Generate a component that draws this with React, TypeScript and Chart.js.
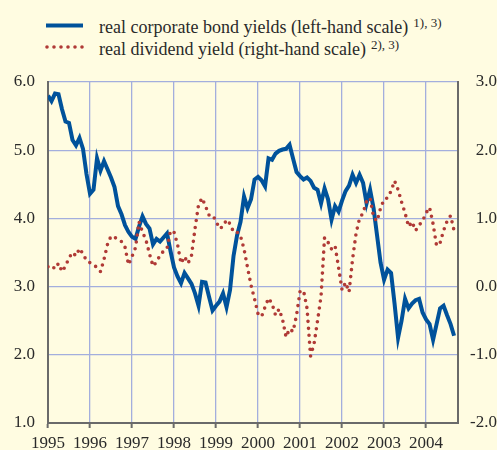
import React, { useEffect, useRef } from "react";
import { Chart, registerables } from "chart.js";

Chart.register(...registerables);

// Monthly observations from January 1995
const START_YEAR = 1995;
const X_MAX = 2004.76;
const YEAR_TICKS = [1995, 1996, 1997, 1998, 1999, 2000, 2001, 2002, 2003, 2004];

const LEFT_LABEL = "real corporate bond yields (left-hand scale)";
const LEFT_NOTE = "1), 3)";
const RIGHT_LABEL = "real dividend yield (right-hand scale)";
const RIGHT_NOTE = "2), 3)";

// real corporate bond yields (left-hand scale, %)
const bondYields = [
  5.80, 5.72, 5.83, 5.82, 5.60, 5.42, 5.40, 5.15, 5.07, 5.18, 5.02, 4.65,
  4.36, 4.42, 4.88, 4.70, 4.84, 4.72, 4.60, 4.46, 4.18, 4.06, 3.90, 3.80,
  3.73, 3.70, 3.88, 4.03, 3.92, 3.85, 3.62, 3.70, 3.66, 3.72, 3.78, 3.52,
  3.28, 3.15, 3.05, 3.20, 3.12, 3.04, 2.90, 2.72, 3.07, 3.06, 2.85, 2.65,
  2.72, 2.78, 2.90, 2.70, 2.95, 3.45, 3.75, 3.95, 4.32, 4.15, 4.28, 4.57,
  4.61, 4.56, 4.47, 4.88, 4.86, 4.95, 4.99, 5.01, 5.02, 5.08, 4.88, 4.68,
  4.62, 4.57, 4.60, 4.55, 4.45, 4.42, 4.22, 4.44, 4.28, 3.98, 4.18, 4.10,
  4.26, 4.40, 4.48, 4.64, 4.52, 4.64, 4.52, 4.22, 4.42, 4.15, 3.75, 3.35,
  3.10, 3.25, 3.20, 2.75, 2.25, 2.50, 2.82, 2.68, 2.75, 2.80, 2.82, 2.62,
  2.52, 2.45, 2.22, 2.45, 2.68, 2.72, 2.58, 2.45, 2.28,
];

// real dividend yield (right-hand scale, %)
const dividendYields = [
  0.29, 0.31, 0.26, 0.34, 0.22, 0.30, 0.42, 0.50, 0.45, 0.56, 0.48, 0.38,
  0.35, 0.32, 0.28, 0.22, 0.40, 0.62, 0.74, 0.72, 0.70, 0.66, 0.58, 0.32,
  0.44, 0.57, 0.95, 0.80, 0.68, 0.48, 0.30, 0.36, 0.46, 0.52, 0.56, 0.82,
  0.80, 0.62, 0.34, 0.44, 0.34, 0.46, 0.85, 1.20, 1.30, 1.18, 1.05, 1.05,
  0.96, 0.85, 0.88, 0.98, 0.92, 0.80, 0.80, 0.74, 0.55, 0.28, 0.02, -0.18,
  -0.40, -0.44, -0.30, -0.17, -0.25, -0.42, -0.33, -0.48, -0.74, -0.62, -0.66, -0.42,
  -0.07, -0.06, -0.32, -1.02, -0.84, -0.50, -0.14, 0.72, 0.65, 0.55, 0.60, 0.28,
  -0.05, 0.06, -0.08, 0.40, 0.78, 1.00, 1.08, 1.25, 1.30, 1.02, 0.96, 1.15,
  1.28, 1.30, 1.40, 1.55, 1.42, 1.24, 1.08, 0.88, 0.95, 0.82, 0.90, 0.96,
  1.08, 1.16, 0.92, 0.60, 0.64, 0.82, 0.96, 1.04, 0.82,
];

const BG = "#FFFCE1";
const BLUE = "#00529B";
const RED = "#B03A36";
const GRID = "#A3AEDD";
const AXIS = "#6A6A6A";
const FONT = '"Liberation Serif", "Times New Roman", serif';
const TEXT = "#2a2a2a";

const toPoints = (vals: number[]) =>
  vals.map((v, i) => ({ x: START_YEAR + i / 12, y: v }));

export default function App() {
  const canvasRef = useRef<HTMLCanvasElement | null>(null);

  useEffect(() => {
    const canvas = canvasRef.current;
    if (!canvas) return;
    const chart = new Chart(canvas, {
      type: "line",
      data: {
        datasets: [
          {
            label: RIGHT_LABEL,
            data: toPoints(dividendYields),
            yAxisID: "yR",
            borderColor: RED,
            borderWidth: 3.6,
            borderDash: [0, 7],
            borderCapStyle: "round",
            borderJoinStyle: "round",
            pointRadius: 0,
            tension: 0,
            fill: false,
            order: 0,
          },
          {
            label: LEFT_LABEL,
            data: toPoints(bondYields),
            yAxisID: "yL",
            borderColor: BLUE,
            borderWidth: 4,
            borderJoinStyle: "miter",
            pointRadius: 0,
            tension: 0,
            fill: false,
            order: 1,
          },
        ],
      },
      options: {
        responsive: false,
        animation: false,
        devicePixelRatio: 1,
        layout: { padding: { top: 82, left: 0, right: 0, bottom: 0 } },
        plugins: {
          legend: { display: false },
          tooltip: { enabled: false },
        },
        scales: {
          x: {
            type: "linear",
            min: START_YEAR,
            max: X_MAX,
            afterBuildTicks: (scale: any) => {
              scale.ticks = YEAR_TICKS.map((v) => ({ value: v }));
            },
            afterFit: (scale: any) => {
              scale.height = 27;
            },
            ticks: {
              autoSkip: false,
              maxRotation: 0,
              padding: 5,
              color: TEXT,
              font: { family: FONT, size: 17 },
              callback: (v: any) => String(v),
            },
            grid: {
              color: GRID,
              lineWidth: 1.3,
              drawTicks: true,
              tickLength: 5,
              tickColor: AXIS,
              tickWidth: 2,
            },
            border: { display: true, color: AXIS, width: 2 },
          },
          yL: {
            type: "linear",
            position: "left",
            min: 1,
            max: 6,
            afterFit: (scale: any) => {
              scale.width = 48;
            },
            ticks: {
              stepSize: 1,
              padding: 13,
              color: TEXT,
              font: { family: FONT, size: 17 },
              callback: (v: any) => Number(v).toFixed(1),
            },
            grid: { color: GRID, lineWidth: 1.3, drawTicks: false },
            border: { display: true, color: AXIS, width: 2 },
          },
          yR: {
            type: "linear",
            position: "right",
            min: -2,
            max: 3,
            afterFit: (scale: any) => {
              scale.width = 39;
            },
            ticks: {
              stepSize: 1,
              padding: 11,
              crossAlign: "far",
              color: TEXT,
              font: { family: FONT, size: 17 },
              callback: (v: any) => Number(v).toFixed(1),
            },
            grid: { drawOnChartArea: false, drawTicks: false },
            border: { display: true, color: AXIS, width: 2 },
          },
        },
      },
    });
    return () => chart.destroy();
  }, []);

  const textStyle: React.CSSProperties = {
    position: "absolute",
    left: 99,
    fontFamily: FONT,
    fontSize: 18,
    lineHeight: "18px",
    color: TEXT,
    whiteSpace: "nowrap",
  };
  const supStyle: React.CSSProperties = {
    fontSize: 13,
    verticalAlign: 6,
    lineHeight: "13px",
    marginLeft: 5,
  };

  return (
    <div
      style={{
        position: "fixed",
        left: 0,
        top: 0,
        width: 497,
        height: 450,
        background: BG,
        overflow: "hidden",
      }}
    >
      <svg
        width={497}
        height={60}
        style={{ position: "absolute", left: 0, top: 0 }}
      >
        <line x1={46} y1={25.5} x2={83} y2={25.5} stroke={BLUE} strokeWidth={4} />
        <line
          x1={47}
          y1={47}
          x2={83}
          y2={47}
          stroke={RED}
          strokeWidth={3.6}
          strokeDasharray="0 7"
          strokeLinecap="round"
        />
      </svg>
      <div style={{ ...textStyle, top: 16 }}>
        {LEFT_LABEL}
        <span style={supStyle}>{LEFT_NOTE}</span>
      </div>
      <div style={{ ...textStyle, top: 38 }}>
        {RIGHT_LABEL}
        <span style={supStyle}>{RIGHT_NOTE}</span>
      </div>
      <canvas
        ref={canvasRef}
        width={497}
        height={450}
        style={{ position: "absolute", left: 0, top: 0, width: 497, height: 450 }}
      />
    </div>
  );
}
